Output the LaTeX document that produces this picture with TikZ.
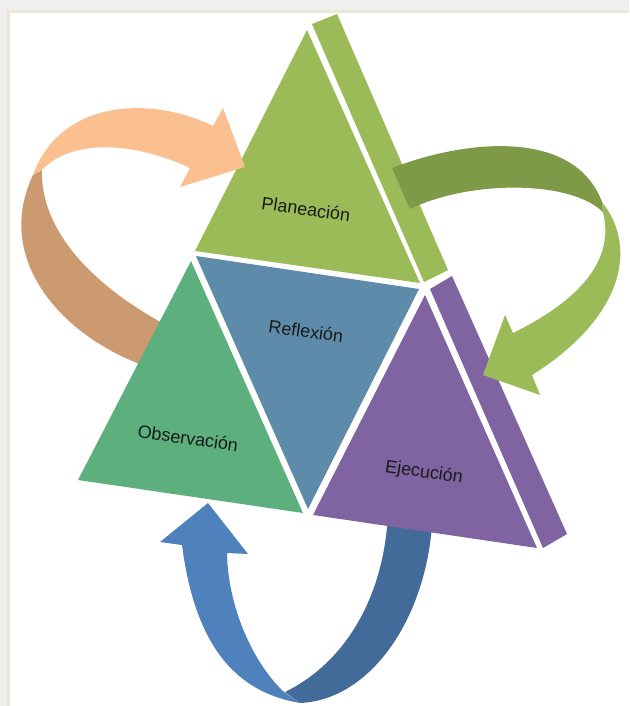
\documentclass[tikz,border=0pt]{standalone}
\usepackage{fontspec}
\setmainfont{Liberation Sans}
% palette
\definecolor{shadowgray}{HTML}{EFEFEF}
\definecolor{frameline}{HTML}{ECE6D6}
\definecolor{planGreen}{HTML}{9BBB59}
\definecolor{reflBlue}{HTML}{5F8BAA}
\definecolor{obsGreen}{HTML}{5DB07D}
\definecolor{ejecPurple}{HTML}{8064A2}
\definecolor{orangeLight}{HTML}{FAC090}
\definecolor{orangeDark}{HTML}{CB9A71}
\definecolor{greenDark}{HTML}{7E9A48}
\definecolor{greenLight}{HTML}{9BBB59}
\definecolor{blueLight}{HTML}{4F81BD}
\definecolor{blueDark}{HTML}{426B9A}
\definecolor{labelink}{HTML}{1A1A1A}
\begin{document}
\begin{tikzpicture}[x=1pt,y=-1pt,
  lbl/.style={font=\fontsize{18}{21}\selectfont, text=labelink, rotate=-8, inner sep=0pt}]
\useasboundingbox (0,0) rectangle (629,706);

% page frame with soft shadow
\fill[shadowgray] (0,0) rectangle (629,706);
\fill[frameline] (7,10) rectangle (629,706);
\fill[white] (10,13) rectangle (629,706);

% --- arrows passing behind the triangles ---
% orange arrow, back half
\fill[orangeDark] (42,170) .. controls (40,240) and (110,300) .. (190,337)
  -- (180,385) -- (137,363)
  .. controls (55,330) and (-5,255) .. (33,175) -- cycle;

% blue arrow, front half with head
\fill[blueLight] (182,545) .. controls (195,645) and (235,692) .. (300,703)
  -- (284,692) .. controls (255,665) and (228,610) .. (227,553)
  -- (248,554) -- (208,503) -- (160,542) -- cycle;
% blue arrow, back half
\fill[blueDark] (285,692) .. controls (350,660) and (385,590) .. (388,512)
  -- (434,514) -- (432,525)
  .. controls (425,620) and (370,700) .. (300,703) -- cycle;

% --- triangles ---
\fill[planGreen] (307,30) -- (195,251) -- (420,283) -- cycle;
\fill[planGreen] (312,24) -- (337,14) -- (448,270) -- (424,282) -- cycle;
\fill[reflBlue] (196,256) -- (419,289) -- (308,509) -- cycle;
\fill[obsGreen] (191,261) -- (78,480) -- (303,513) -- cycle;
\fill[ejecPurple] (425,295) -- (313,515) -- (537,548) -- cycle;
\fill[ejecPurple] (430,289) -- (452,276) -- (567,534) -- (543,548) -- cycle;

% --- arrows passing in front ---
% orange arrow, front half with head
\fill[orangeLight] (33,175) .. controls (60,100) and (150,95) .. (213,126)
  -- (223,108) -- (245,167) -- (180,187) -- (190,168)
  .. controls (130,140) and (70,140) .. (42,170) -- cycle;

% green arrow, back half
\fill[greenDark] (392,168) .. controls (470,138) and (575,130) .. (602,202)
  -- (603,212) .. controls (570,180) and (470,180) .. (410,209) -- cycle;
% green arrow, front half with head
\fill[greenLight] (602,202) .. controls (640,250) and (620,320) .. (532,375)
  -- (540,395) -- (483,375) -- (505,315) -- (513,333)
  .. controls (580,300) and (615,260) .. (603,212) -- cycle;

% --- labels ---
\node[lbl] (plan) at (306,209) {Planeación};
\node[lbl] (refl) at (306,331) {Reflexión};
\node[lbl] (obs)  at (188,438) {Observación};
\node[lbl] (ejec) at (424,473) {Ejecución};
\end{tikzpicture}
\end{document}
